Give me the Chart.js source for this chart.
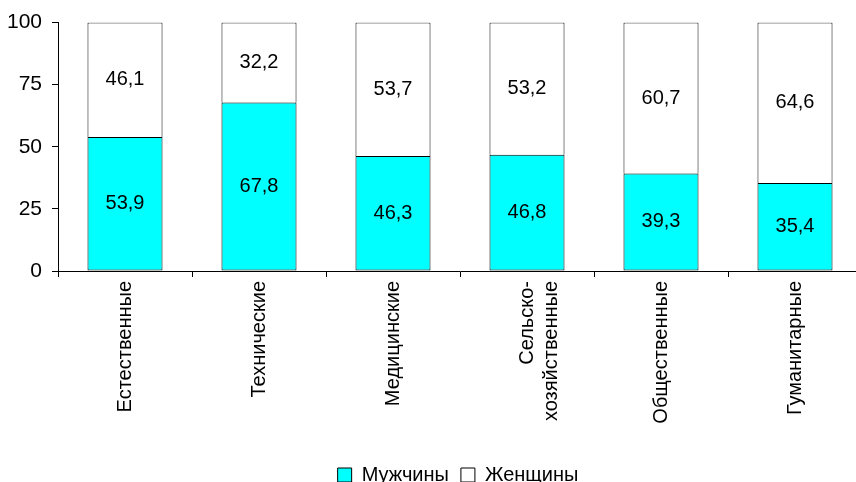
<!DOCTYPE html>
<html>
<head>
<meta charset="utf-8">
<script src="https://cdn.jsdelivr.net/npm/chart.js@4"></script>
<style>
  html, body { margin: 0; padding: 0; background: #fff; overflow: hidden; }
  #wrap { width: 872px; height: 482px; }
</style>
</head>
<body>
<div id="wrap"><canvas id="chart" width="872" height="482"></canvas></div>
<script>
const categories = [
    "Естественные",
    "Технические",
    "Медицинские",
    ["Сельско-", "хозяйственные"],
    "Общественные",
    "Гуманитарные"
];
const men = [53.9, 67.8, 46.3, 46.8, 39.3, 35.4];
const women = [46.1, 32.2, 53.7, 53.2, 60.7, 64.6];
const yTicks = [0, 25, 50, 75, 100];

const font = "'Liberation Sans', Arial, sans-serif";

// values written inside each bar segment
const valueLabels = {
    id: "valueLabels",
    afterDatasetsDraw(chart) {
        const ctx = chart.ctx;
        ctx.save();
        ctx.fillStyle = "#000";
        ctx.font = "20px " + font;
        ctx.textAlign = "center";
        ctx.textBaseline = "middle";
        chart.data.datasets.forEach((ds, i) => {
            chart.getDatasetMeta(i).data.forEach((bar, j) => {
                const y = (bar.y + bar.base) / 2;
                ctx.fillText(ds.data[j].toFixed(1).replace(".", ","), bar.x, y);
            });
        });
        ctx.restore();
    }
};

// legend sits a bit right of centre and close to the bottom edge in the original
const shiftLegend = {
    id: "shiftLegend",
    afterLayout(chart) {
        const lg = chart.legend;
        lg.left += 27;
        lg.right += 27;
        lg.top += 13;
        lg.bottom += 13;
    }
};

new Chart(document.getElementById("chart"), {
    type: "bar",
    data: {
        labels: categories,
        datasets: [{
            label: "Мужчины",
            data: men,
            backgroundColor: "#00ffff",
            borderColor: "#000",
            borderWidth: 1,
            borderSkipped: false,
            barPercentage: 0.56,
            categoryPercentage: 1
        }, {
            label: "Женщины",
            data: women,
            backgroundColor: "#fff",
            borderColor: "#000",
            borderWidth: 1,
            borderSkipped: "bottom",
            barPercentage: 0.56,
            categoryPercentage: 1
        }]
    },
    options: {
        responsive: false,
        animation: false,
        layout: { padding: { top: 22, right: 10, left: 0, bottom: 0 } },
        scales: {
            x: {
                stacked: true,
                border: { color: "#000", width: 1 },
                grid: { drawOnChartArea: false, color: "#000", tickLength: 6, offset: true },
                ticks: {
                    color: "#000",
                    font: { family: font, size: 20 },
                    maxRotation: 90,
                    minRotation: 90,
                    padding: 4
                },
                afterFit(scale) { scale.height = 169; }
            },
            y: {
                stacked: true,
                min: 0,
                max: 100,
                border: { color: "#000", width: 1 },
                grid: { drawOnChartArea: false, color: "#000", tickLength: 6 },
                afterBuildTicks(scale) { scale.ticks = yTicks.map(v => ({ value: v })); },
                ticks: {
                    color: "#000",
                    font: { family: font, size: 21 },
                    padding: 10
                },
                afterFit(scale) { scale.width = 58; }
            }
        },
        plugins: {
            legend: {
                position: "bottom",
                labels: {
                    color: "#000",
                    font: { family: font, size: 20 },
                    boxWidth: 14,
                    boxHeight: 14,
                    padding: 12
                }
            },
            tooltip: { enabled: false }
        }
    },
    plugins: [valueLabels, shiftLegend]
});
</script>
</body>
</html>
